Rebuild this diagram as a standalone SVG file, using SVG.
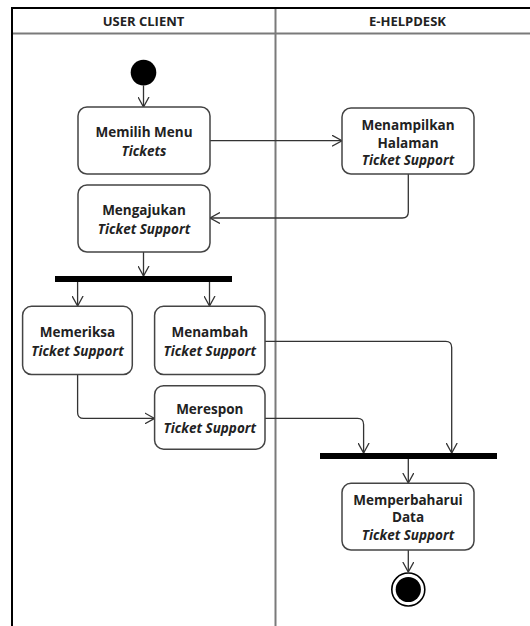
<svg xmlns="http://www.w3.org/2000/svg" width="530" height="626" viewBox="0 0 530 626">
  <style>
    .lane { stroke: #7a7a7a; stroke-width: 2; fill: none; }
    .frame { stroke: #000; stroke-width: 2; fill: none; }
    .head { font-family: "Open Sans", "Liberation Sans", sans-serif; font-weight: bold; font-size: 13px; fill: #222; text-anchor: middle; }
    .act rect { fill: #fff; stroke: #444; stroke-width: 1.5; }
    .act text { font-family: "Open Sans", "Liberation Sans", sans-serif; font-weight: bold; font-size: 13.5px; fill: #222; text-anchor: middle; }
    .act text .it { font-style: italic; }
    .bar { fill: #000; }
    .flow path { fill: none; stroke: #333; stroke-width: 1.3; marker-end: url(#arrow); }
  </style>
  <defs>
    <marker id="arrow" viewBox="0 0 10 12" refX="10" refY="6" markerWidth="10" markerHeight="12" markerUnits="userSpaceOnUse" orient="auto">
      <path d="M0,0.5 L10,6 L0,11.5" fill="none" stroke="#333" stroke-width="1.3"/>
    </marker>
  </defs>

  <rect x="0" y="0" width="530" height="626" fill="#fff"/>

  <!-- swimlanes -->
  <g id="lanes">
    <line class="lane" x1="12" y1="33.5" x2="530" y2="33.5"/>
    <line class="lane" x1="275.5" y1="8" x2="275.5" y2="626"/>
    <line class="frame" x1="12" y1="8" x2="530" y2="8"/>
    <line class="frame" x1="12" y1="7" x2="12" y2="626"/>
    <text class="head" x="143.5" y="26">USER CLIENT</text>
    <text class="head" x="407.5" y="26">E-HELPDESK</text>
  </g>

  <!-- connectors -->
  <g id="connectors" class="flow">
    <path d="M143.5,85.5 V107"/>
    <path d="M210,140.7 H342"/>
    <path d="M408.3,174 V212 Q408.3,218 402.3,218 H210"/>
    <path d="M143.5,252 V276"/>
    <path d="M77.6,282 V306"/>
    <path d="M209.5,282 V306"/>
    <path d="M77.6,374.5 V412.4 Q77.6,418.4 83.6,418.4 H154.6"/>
    <path d="M265,341.4 H445.7 Q451.7,341.4 451.7,347.4 V453"/>
    <path d="M265,418.4 H357.6 Q363.6,418.4 363.6,424.4 V453"/>
    <path d="M408.3,459 V483"/>
    <path d="M408.3,550 V572"/>
  </g>

  <!-- start / end -->
  <g id="start">
    <circle cx="143.5" cy="72.6" r="12.8" fill="#000"/>
  </g>
  <g id="end">
    <circle cx="408.3" cy="589.5" r="16.5" fill="#fff" stroke="#000" stroke-width="1.6"/>
    <circle cx="408.3" cy="589.5" r="12.6" fill="#000"/>
  </g>

  <!-- fork / join bars -->
  <g id="fork"><rect class="bar" x="55" y="276" width="177" height="6"/></g>
  <g id="join"><rect class="bar" x="320" y="453" width="177" height="6"/></g>

  <!-- activities -->
  <g id="memilih-menu" class="act">
    <rect x="78" y="107" width="132" height="67" rx="9"/>
    <text x="144" y="136.5">Memilih Menu</text>
    <text x="144" y="155.5"><tspan class="it">Tickets</tspan></text>
  </g>
  <g id="menampilkan-halaman" class="act">
    <rect x="342" y="108" width="132" height="66" rx="9"/>
    <text x="408" y="129.5">Menampilkan</text>
    <text x="408" y="147.5">Halaman</text>
    <text x="408" y="165"><tspan class="it">Ticket Support</tspan></text>
  </g>
  <g id="mengajukan" class="act">
    <rect x="78" y="185" width="132" height="67" rx="9"/>
    <text x="144" y="215">Mengajukan</text>
    <text x="144" y="233.5"><tspan class="it">Ticket Support</tspan></text>
  </g>
  <g id="memeriksa" class="act">
    <rect x="22.6" y="306.3" width="109.7" height="68.2" rx="9"/>
    <text x="77.5" y="336.5">Memeriksa</text>
    <text x="77.5" y="356"><tspan class="it">Ticket Support</tspan></text>
  </g>
  <g id="menambah" class="act">
    <rect x="154.6" y="306.3" width="110.4" height="68.2" rx="9"/>
    <text x="209.8" y="336.5">Menambah</text>
    <text x="209.8" y="356"><tspan class="it">Ticket Support</tspan></text>
  </g>
  <g id="merespon" class="act">
    <rect x="154.6" y="385.7" width="110.4" height="63.5" rx="9"/>
    <text x="209.8" y="413.5">Merespon</text>
    <text x="209.8" y="433"><tspan class="it">Ticket Support</tspan></text>
  </g>
  <g id="memperbaharui" class="act">
    <rect x="342" y="483.3" width="132" height="66.7" rx="9"/>
    <text x="408" y="504.5">Memperbaharui</text>
    <text x="408" y="522">Data</text>
    <text x="408" y="539.5"><tspan class="it">Ticket Support</tspan></text>
  </g>
</svg>
